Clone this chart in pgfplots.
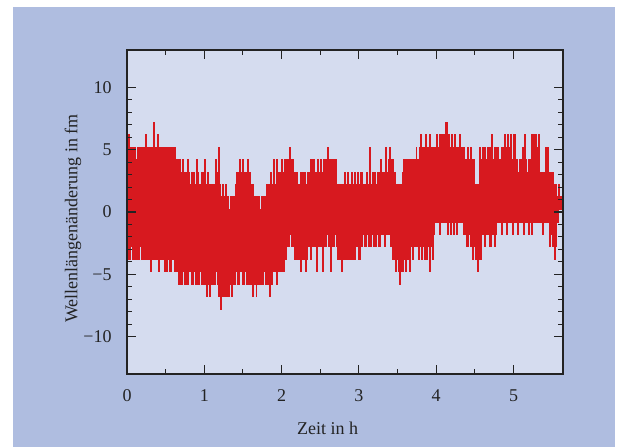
\documentclass[border=0pt]{standalone}
\usepackage{fontspec}
\setmainfont{Liberation Serif}
\usepackage{pgfplots}
\pgfplotsset{compat=1.18}
\definecolor{outerbg}{RGB}{175,189,224}
\definecolor{plotbg}{RGB}{213,220,239}
\definecolor{sigred}{RGB}{215,25,31}
\definecolor{txt}{RGB}{35,35,35}
\begin{document}
\begin{tikzpicture}
\path[use as bounding box] (0,0) rectangle (466.5pt,335.25pt);
\fill[white] (0,0) rectangle (466.5pt,335.25pt);
\fill[outerbg] (9.75pt,0) rectangle (461.25pt,330pt);
\begin{axis}[
  at={(95.25pt,54.75pt)}, anchor=south west,
  scale only axis, width=327pt, height=243pt,
  xmin=0, xmax=5.64, ymin=-13, ymax=13,
  xtick={0,1,2,3,4,5}, ytick={-10,-5,0,5,10},
  yticklabels={−10,−5,0,5,10},
  minor x tick num=1, minor y tick num=4,
  tick align=inside, tick pos=both,
  major tick length=7pt, minor tick length=4pt,
  every tick/.style={line width=0.8pt, color=txt},
  axis line style={line width=1pt, color=txt},
  axis background/.style={fill=plotbg},
  axis on top,
  /pgf/number format/assume math mode=true,
  tick label style={font=\fontsize{13.5pt}{16pt}\selectfont, text=txt},
  xticklabel style={yshift=-8pt},
  yticklabel style={xshift=-8pt},
  label style={font=\fontsize{13.5pt}{16pt}\selectfont, text=txt},
  xlabel={Zeit in h},
  ylabel={Wellenlängenänderung in fm},
  xlabel style={at={(axis description cs:0.46,-0.167)}, anchor=center},
  ylabel style={at={(axis description cs:-0.124,0.48)}, anchor=center},
]
\addplot[sigred, line width=0.9pt, const plot, mark=none] coordinates {
(0.00,6.2)(0.01,-3.8)(0.02,6.2)(0.03,-3.8)(0.04,5.2)(0.05,-2.8)(0.06,5.2)(0.07,-3.8)(0.08,5.2)(0.09,-3.8)
(0.10,5.2)(0.11,-3.8)(0.12,4.2)(0.13,-3.8)(0.14,5.2)(0.15,-3.8)(0.16,5.2)(0.17,-2.8)(0.18,5.2)(0.19,-3.8)
(0.20,5.2)(0.21,-3.8)(0.22,5.2)(0.23,-3.8)(0.24,6.2)(0.25,-3.8)(0.26,5.2)(0.27,-3.8)(0.28,5.2)(0.29,-3.8)
(0.30,5.2)(0.31,-4.8)(0.32,5.2)(0.33,-3.8)(0.34,7.2)(0.35,-3.8)(0.36,5.2)(0.37,-3.8)(0.38,5.2)(0.39,-3.8)
(0.40,6.2)(0.41,-4.8)(0.42,5.2)(0.43,-3.8)(0.44,5.2)(0.45,-3.8)(0.46,5.2)(0.47,-3.8)(0.48,5.2)(0.49,-4.8)
(0.50,5.2)(0.51,-4.8)(0.52,5.2)(0.53,-3.8)(0.54,5.2)(0.55,-4.8)(0.56,5.2)(0.57,-4.8)(0.58,5.2)(0.59,-3.8)
(0.60,5.2)(0.61,-4.8)(0.62,5.2)(0.63,-4.8)(0.64,4.2)(0.65,-4.8)(0.66,4.2)(0.67,-5.8)(0.68,4.2)(0.69,-5.8)
(0.70,3.2)(0.71,-5.8)(0.72,4.2)(0.73,-4.8)(0.74,3.2)(0.75,-5.8)(0.76,3.2)(0.77,-5.8)(0.78,4.2)(0.79,-5.8)
(0.80,3.2)(0.81,-4.8)(0.82,2.2)(0.83,-5.8)(0.84,3.2)(0.85,-5.8)(0.86,3.2)(0.87,-4.8)(0.88,2.2)(0.89,-5.8)
(0.90,4.2)(0.91,-5.8)(0.92,3.2)(0.93,-5.8)(0.94,2.2)(0.95,-4.8)(0.96,3.2)(0.97,-5.8)(0.98,3.2)(0.99,-5.8)
(1.00,4.2)(1.01,-5.8)(1.02,2.2)(1.03,-6.8)(1.04,3.2)(1.05,-5.8)(1.06,2.2)(1.07,-6.8)(1.08,2.2)(1.09,-5.8)
(1.10,2.2)(1.11,-5.8)(1.12,2.2)(1.13,-5.8)(1.14,4.2)(1.15,-4.8)(1.16,3.2)(1.17,-5.8)(1.18,5.2)(1.19,-6.8)
(1.20,2.2)(1.21,-7.8)(1.22,1.2)(1.23,-6.8)(1.24,2.2)(1.25,-6.8)(1.26,1.2)(1.27,-6.8)(1.28,2.2)(1.29,-6.8)
(1.30,1.2)(1.31,-6.8)(1.32,0.2)(1.33,-5.8)(1.34,1.2)(1.35,-6.8)(1.36,1.2)(1.37,-5.8)(1.38,1.2)(1.39,-5.8)
(1.40,2.2)(1.41,-4.8)(1.42,3.2)(1.43,-5.8)(1.44,3.2)(1.45,-5.8)(1.46,4.2)(1.47,-4.8)(1.48,3.2)(1.49,-5.8)
(1.50,4.2)(1.51,-5.8)(1.52,3.2)(1.53,-4.8)(1.54,3.2)(1.55,-5.8)(1.56,4.2)(1.57,-5.8)(1.58,3.2)(1.59,-5.8)
(1.60,2.2)(1.61,-5.8)(1.62,2.2)(1.63,-6.8)(1.64,1.2)(1.65,-5.8)(1.66,1.2)(1.67,-6.8)(1.68,1.2)(1.69,-5.8)
(1.70,1.2)(1.71,-5.8)(1.72,0.2)(1.73,-5.8)(1.74,1.2)(1.75,-5.8)(1.76,1.2)(1.77,-4.8)(1.78,1.2)(1.79,-5.8)
(1.80,2.2)(1.81,-5.8)(1.82,2.2)(1.83,-5.8)(1.84,2.2)(1.85,-6.8)(1.86,3.2)(1.87,-5.8)(1.88,2.2)(1.89,-4.8)
(1.90,4.2)(1.91,-4.8)(1.92,2.2)(1.93,-5.8)(1.94,4.2)(1.95,-4.8)(1.96,3.2)(1.97,-4.8)(1.98,3.2)(1.99,-4.8)
(2.00,4.2)(2.01,-4.8)(2.02,3.2)(2.03,-4.8)(2.04,4.2)(2.05,-3.8)(2.06,4.2)(2.07,-2.8)(2.08,4.2)(2.09,-2.8)
(2.10,5.2)(2.11,-1.8)(2.12,4.2)(2.13,-2.8)(2.14,4.2)(2.15,-2.8)(2.16,3.2)(2.17,-3.8)(2.18,3.2)(2.19,-3.8)
(2.20,3.2)(2.21,-3.8)(2.22,2.2)(2.23,-3.8)(2.24,3.2)(2.25,-4.8)(2.26,3.2)(2.27,-3.8)(2.28,3.2)(2.29,-3.8)
(2.30,3.2)(2.31,-4.8)(2.32,2.2)(2.33,-3.8)(2.34,3.2)(2.35,-2.8)(2.36,3.2)(2.37,-3.8)(2.38,4.2)(2.39,-2.8)
(2.40,4.2)(2.41,-2.8)(2.42,4.2)(2.43,-2.8)(2.44,3.2)(2.45,-4.8)(2.46,4.2)(2.47,-2.8)(2.48,3.2)(2.49,-2.8)
(2.50,4.2)(2.51,-2.8)(2.52,3.2)(2.53,-4.8)(2.54,4.2)(2.55,-2.8)(2.56,4.2)(2.57,-2.8)(2.58,4.2)(2.59,-1.8)
(2.60,5.2)(2.61,-2.8)(2.62,4.2)(2.63,-4.8)(2.64,4.2)(2.65,-2.8)(2.66,4.2)(2.67,-2.8)(2.68,4.2)(2.69,-1.8)
(2.70,4.2)(2.71,-2.8)(2.72,2.2)(2.73,-3.8)(2.74,2.2)(2.75,-3.8)(2.76,2.2)(2.77,-4.8)(2.78,2.2)(2.79,-3.8)
(2.80,2.2)(2.81,-3.8)(2.82,3.2)(2.83,-3.8)(2.84,2.2)(2.85,-3.8)(2.86,3.2)(2.87,-3.8)(2.88,2.2)(2.89,-3.8)
(2.90,3.2)(2.91,-3.8)(2.92,2.2)(2.93,-3.8)(2.94,3.2)(2.95,-3.8)(2.96,2.2)(2.97,-2.8)(2.98,3.2)(2.99,-3.8)
(3.00,2.2)(3.01,-3.8)(3.02,3.2)(3.03,-2.8)(3.04,3.2)(3.05,-1.8)(3.06,2.2)(3.07,-2.8)(3.08,2.2)(3.09,-2.8)
(3.10,3.2)(3.11,-1.8)(3.12,2.2)(3.13,-2.8)(3.14,5.2)(3.15,-2.8)(3.16,2.2)(3.17,-1.8)(3.18,3.2)(3.19,-2.8)
(3.20,3.2)(3.21,-2.8)(3.22,2.2)(3.23,-1.8)(3.24,3.2)(3.25,-2.8)(3.26,3.2)(3.27,-2.8)(3.28,4.2)(3.29,-1.8)
(3.30,3.2)(3.31,-1.8)(3.32,3.2)(3.33,-2.8)(3.34,5.2)(3.35,-1.8)(3.36,3.2)(3.37,-1.8)(3.38,4.2)(3.39,-1.8)
(3.40,5.2)(3.41,-2.8)(3.42,4.2)(3.43,-3.8)(3.44,4.2)(3.45,-3.8)(3.46,3.2)(3.47,-4.8)(3.48,2.2)(3.49,-3.8)
(3.50,2.2)(3.51,-4.8)(3.52,2.2)(3.53,-5.8)(3.54,2.2)(3.55,-4.8)(3.56,3.2)(3.57,-4.8)(3.58,4.2)(3.59,-3.8)
(3.60,4.2)(3.61,-4.8)(3.62,4.2)(3.63,-3.8)(3.64,4.2)(3.65,-4.8)(3.66,4.2)(3.67,-2.8)(3.68,4.2)(3.69,-3.8)
(3.70,4.2)(3.71,-2.8)(3.72,4.2)(3.73,-2.8)(3.74,5.2)(3.75,-2.8)(3.76,4.2)(3.77,-3.8)(3.78,5.2)(3.79,-2.8)
(3.80,6.2)(3.81,-3.8)(3.82,5.2)(3.83,-2.8)(3.84,5.2)(3.85,-3.8)(3.86,6.2)(3.87,-3.8)(3.88,5.2)(3.89,-2.8)
(3.90,5.2)(3.91,-4.8)(3.92,6.2)(3.93,-2.8)(3.94,5.2)(3.95,-3.8)(3.96,5.2)(3.97,-1.8)(3.98,5.2)(3.99,-0.8)
(4.00,6.2)(4.01,-0.8)(4.02,5.2)(4.03,-0.8)(4.04,6.2)(4.05,-1.8)(4.06,6.2)(4.07,-0.8)(4.08,6.2)(4.09,-0.8)
(4.10,6.2)(4.11,-0.8)(4.12,7.2)(4.13,-0.8)(4.14,7.2)(4.15,-1.8)(4.16,6.2)(4.17,-0.8)(4.18,5.2)(4.19,-1.8)
(4.20,6.2)(4.21,-0.8)(4.22,5.2)(4.23,-1.8)(4.24,6.2)(4.25,-0.8)(4.26,5.2)(4.27,-1.8)(4.28,5.2)(4.29,-0.8)
(4.30,6.2)(4.31,-0.8)(4.32,5.2)(4.33,-0.8)(4.34,5.2)(4.35,-1.8)(4.36,5.2)(4.37,-1.8)(4.38,4.2)(4.39,-2.8)
(4.40,5.2)(4.41,-2.8)(4.42,4.2)(4.43,-1.8)(4.44,5.2)(4.45,-2.8)(4.46,4.2)(4.47,-3.8)(4.48,4.2)(4.49,-2.8)
(4.50,2.2)(4.51,-3.8)(4.52,2.2)(4.53,-4.8)(4.54,2.2)(4.55,-3.8)(4.56,5.2)(4.57,-3.8)(4.58,4.2)(4.59,-1.8)
(4.60,5.2)(4.61,-1.8)(4.62,5.2)(4.63,-2.8)(4.64,4.2)(4.65,-1.8)(4.66,5.2)(4.67,-1.8)(4.68,5.2)(4.69,-2.8)
(4.70,5.2)(4.71,-2.8)(4.72,6.2)(4.73,-1.8)(4.74,4.2)(4.75,-2.8)(4.76,5.2)(4.77,-1.8)(4.78,5.2)(4.79,-0.8)
(4.80,5.2)(4.81,-0.8)(4.82,4.2)(4.83,-0.8)(4.84,5.2)(4.85,-1.8)(4.86,5.2)(4.87,-0.8)(4.88,6.2)(4.89,-0.8)
(4.90,5.2)(4.91,-1.8)(4.92,6.2)(4.93,-0.8)(4.94,5.2)(4.95,-0.8)(4.96,6.2)(4.97,-0.8)(4.98,4.2)(4.99,-1.8)
(5.00,6.2)(5.01,-0.8)(5.02,6.2)(5.03,-0.8)(5.04,4.2)(5.05,-1.8)(5.06,3.2)(5.07,-0.8)(5.08,4.2)(5.09,-0.8)
(5.10,4.2)(5.11,-0.8)(5.12,5.2)(5.13,-1.8)(5.14,6.2)(5.15,-0.8)(5.16,4.2)(5.17,-0.8)(5.18,3.2)(5.19,-1.8)
(5.20,4.2)(5.21,-0.8)(5.22,4.2)(5.23,-1.8)(5.24,6.2)(5.25,-0.8)(5.26,6.2)(5.27,-0.8)(5.28,6.2)(5.29,-0.8)
(5.30,5.2)(5.31,-0.8)(5.32,6.2)(5.33,-0.8)(5.34,3.2)(5.35,-0.8)(5.36,3.2)(5.37,-1.8)(5.38,3.2)(5.39,-0.8)
(5.40,3.2)(5.41,-0.8)(5.42,5.2)(5.43,-0.8)(5.44,5.2)(5.45,-0.8)(5.46,3.2)(5.47,-2.8)(5.48,3.2)(5.49,-1.8)
(5.50,3.2)(5.51,-2.8)(5.52,2.2)(5.53,-3.8)(5.54,2.2)(5.55,-2.8)(5.56,1.2)(5.57,-0.8)(5.58,2.2)(5.59,0.2)
(5.60,1.2)(5.61,0.2)(5.62,1.2)(5.63,0.2)(5.64,1.2)
};
\end{axis}
\end{tikzpicture}
\end{document}
